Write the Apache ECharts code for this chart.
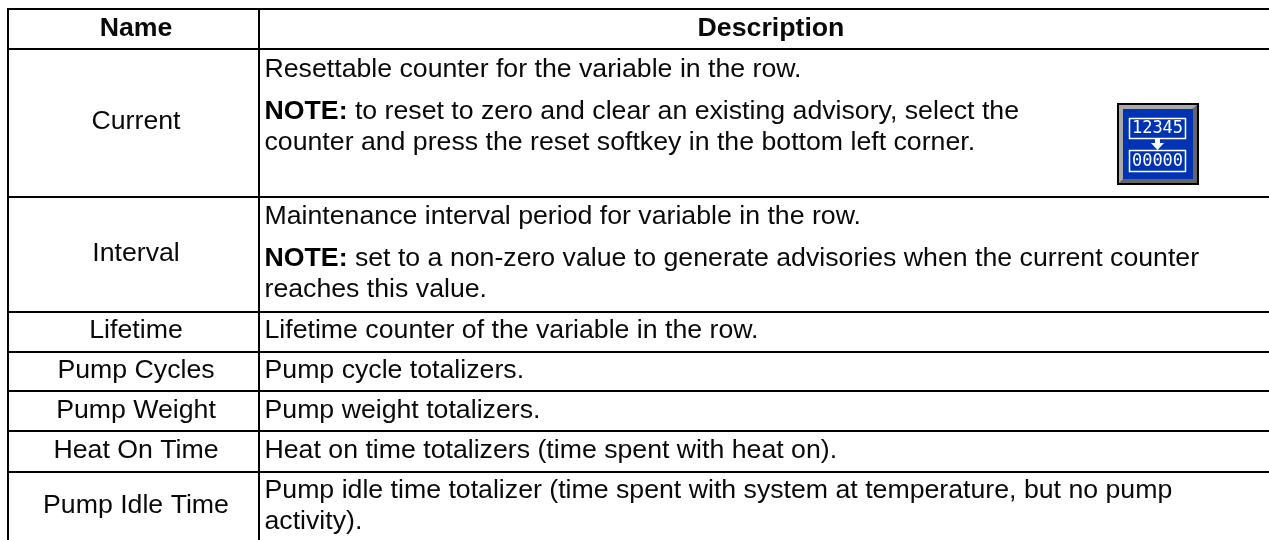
<!DOCTYPE html>
<html>
<head>
<meta charset="utf-8">
<style>html,body{margin:0;padding:0;background:#fff}#c{width:1269px;height:540px}</style>
<script src="https://cdn.jsdelivr.net/npm/echarts@6/dist/echarts.min.js"></script>
</head>
<body>
<div id="c"></div>
<script>
const headers = ['Name', 'Description'];
const names = ['Current', 'Interval', 'Lifetime', 'Pump Cycles', 'Pump Weight', 'Heat On Time', 'Pump Idle Time'];
const descriptions = [
  [['', 'Resettable counter for the variable in the row.'],
   ['NOTE:', ' to reset to zero and clear an existing advisory, select the'],
   ['', 'counter and press the reset softkey in the bottom left corner.']],
  [['', 'Maintenance interval period for variable in the row.'],
   ['NOTE:', ' set to a non-zero value to generate advisories when the current counter'],
   ['', 'reaches this value.']],
  [['', 'Lifetime counter of the variable in the row.']],
  [['', 'Pump cycle totalizers.']],
  [['', 'Pump weight totalizers.']],
  [['', 'Heat on time totalizers (time spent with heat on).']],
  [['', 'Pump idle time totalizer (time spent with system at temperature, but no pump'],
   ['', 'activity).']]
];
const iconTop = '12345';
const iconBottom = '00000';

// layout (pixels)
const FONT = '"Liberation Sans", Arial, Helvetica, sans-serif';
const SIZE = 26.7;
const MID = 6.5; // distance from text middle to baseline
const rowLines = [9, 49, 197, 312, 352, 391, 431, 472];
const colLines = [8, 259];
const nameCenter = 136, descCenter = 771, descLeft = 264.5, rightEdge = 1269, bottomEdge = 540;
const nameBase = [128, 260, 337, 377, 417, 457, 512];
const lineBase = [[76, 118, 149], [223, 265, 296], [337], [377], [417], [457], [497, 528]];

const g = [];
const line = (x1, y1, x2, y2) => g.push({type: 'line', silent: true, shape: {x1, y1, x2, y2},
  style: {stroke: '#000', lineWidth: 2}});
rowLines.forEach(y => line(colLines[0] - 1, y, rightEdge, y));
colLines.forEach(x => line(x, rowLines[0], x, bottomEdge));

const text = (str, x, base, align, weight) => g.push({type: 'text', silent: true, x, y: base - MID,
  style: {text: str, font: `${weight || 'normal'} ${SIZE}px ${FONT}`, fill: '#0a0a0a',
          textAlign: align, textVerticalAlign: 'middle'}});
text(headers[0], nameCenter, 35, 'center', 'bold');
text(headers[1], descCenter, 35, 'center', 'bold');
names.forEach((n, i) => text(n, nameCenter, nameBase[i], 'center'));
descriptions.forEach((rows, i) => rows.forEach((r, j) => {
  g.push({type: 'text', silent: true, x: descLeft, y: lineBase[i][j] - MID, style: {
    text: (r[0] ? `{b|${r[0]}}` : '') + `{n|${r[1]}}`,
    textAlign: 'left', textVerticalAlign: 'middle',
    rich: {
      b: {font: `bold ${SIZE}px ${FONT}`, fill: '#000'},
      n: {font: `normal ${SIZE}px ${FONT}`, fill: '#0a0a0a'}
    }
  }});
}));

// reset softkey icon
const rect = (x, y, w, h, style) => g.push({type: 'rect', silent: true, shape: {x, y, width: w, height: h}, style});
rect(1117, 103, 82, 82, {fill: '#000'});
rect(1119, 105, 78, 78, {fill: '#666'});
g.push({type: 'polygon', silent: true, shape: {points: [[1119, 105], [1197, 105], [1192, 109], [1123, 109], [1123, 179], [1119, 183]]}, style: {fill: '#aaa'}});
rect(1123, 109, 70, 70, {fill: '#0033b4'});
rect(1129.5, 118.5, 56, 20, {fill: 'none', stroke: '#fff', lineWidth: 1.5});
rect(1129.5, 150.5, 56, 21, {fill: 'none', stroke: '#fff', lineWidth: 1.5});
const iconText = (s, y) => g.push({type: 'text', silent: true, x: 1157.5, y, style: {text: s, fill: '#fff',
  font: `17px "DejaVu Sans Mono", monospace`, textAlign: 'center', textVerticalAlign: 'middle'}});
iconText(iconTop, 129);
iconText(iconBottom, 161.5);
g.push({type: 'polygon', silent: true, shape: {points: [[1155, 139], [1160, 139], [1160, 143], [1164, 143], [1157.5, 150], [1151, 143], [1155, 143]]}, style: {fill: '#fff'}});

const chart = echarts.init(document.getElementById('c'), null, {renderer: 'canvas', width: 1269, height: 540});
chart.setOption({animation: false, backgroundColor: '#fff', graphic: {elements: g}});
</script>
</body>
</html>
